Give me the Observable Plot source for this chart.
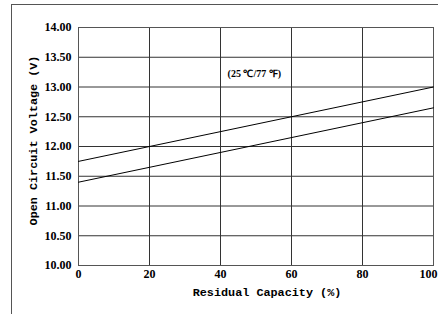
<!DOCTYPE html>
<html>
<head>
<meta charset="utf-8">
<script src="https://cdn.jsdelivr.net/npm/d3@7"></script>
<script src="https://cdn.jsdelivr.net/npm/@observablehq/plot@0.6"></script>
<style>
  html, body { margin: 0; padding: 0; background: #fff; }
  #wrap { position: relative; width: 438px; height: 314px; overflow: hidden; }
  #border { position: absolute; left: 11px; top: 4px; right: -2px; bottom: -2px; border-top: 1px solid #555; border-left: 1px solid #555; }
  #chart { position: absolute; left: 0; top: 0; }
  #chart svg text { font-family: "Liberation Serif", serif !important; font-weight: bold; }
  #chart svg text.mono { font-family: "Liberation Mono", monospace !important; font-weight: bold; }
</style>
</head>
<body>
<div id="wrap"><div id="chart"></div><div id="border"></div></div>
<script>
const capacity = [0, 100];
const upperVoltage = [11.75, 13.00];
const lowerVoltage = [11.40, 12.65];
const xTicks = [0, 20, 40, 60, 80, 100];
const yTicks = [10.0, 10.5, 11.0, 11.5, 12.0, 12.5, 13.0, 13.5, 14.0];
const xTitle = "Residual Capacity (%)";
const yTitle = "Open Circuit Voltage (V)";
const note = "(25 ℃/77 ℉)";
const notePos = {x: 42, y: 13.22};

const upper = capacity.map((c, i) => ({x: c, y: upperVoltage[i]}));
const lower = capacity.map((c, i) => ({x: c, y: lowerVoltage[i]}));

const chart = Plot.plot({
  width: 438,
  height: 314,
  marginLeft: 78,
  marginRight: 5,
  marginTop: 27,
  marginBottom: 49,
  style: {background: "transparent", color: "#000"},
  x: {domain: [0, 100], ticks: xTicks},
  y: {domain: [10, 14], ticks: yTicks},
  marks: [
    Plot.gridX(xTicks, {stroke: "#333", strokeOpacity: 1}),
    Plot.gridY(yTicks, {stroke: "#333", strokeOpacity: 1}),
    Plot.frame({stroke: "#555"}),
    Plot.line(upper, {x: "x", y: "y", stroke: "#000", strokeWidth: 1}),
    Plot.line(lower, {x: "x", y: "y", stroke: "#000", strokeWidth: 1}),
    Plot.axisX(xTicks, {tickSize: 0, tickPadding: 4, label: null, fontSize: 12}),
    Plot.axisY(yTicks, {tickSize: 0, tickPadding: 7, label: null, tickFormat: d3.format(".2f"), fontSize: 12}),
    Plot.text([xTitle], {frameAnchor: "bottom", dx: 11, dy: 30, text: d => d, fontSize: 11.8}),
    Plot.text([yTitle], {frameAnchor: "left", textAnchor: "middle", dx: -45, dy: -6, rotate: -90, text: d => d, fontSize: 11.8}),
    Plot.text([note], {x: () => notePos.x, y: () => notePos.y, text: d => d, textAnchor: "start", fontSize: 10})
  ]
});
document.getElementById("chart").appendChild(chart);

const svg = d3.select(chart);
svg.selectAll("text").filter(function() { const t = this.textContent; return t === xTitle || t === yTitle; })
  .classed("mono", true);
svg.selectAll("text").filter(function() { return this.textContent === "100"; }).attr("dx", -5);
</script>
</body>
</html>
